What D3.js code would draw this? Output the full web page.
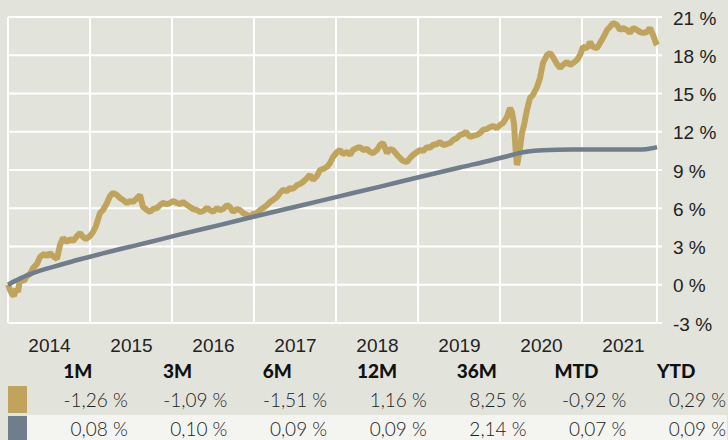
<!DOCTYPE html>
<html>
<head>
<meta charset="utf-8" />
<title>Fund vs benchmark</title>
<script src="https://d3js.org/d3.v7.min.js"></script>
<style>
  body { margin: 0; background: #e2e4dc; }
  svg { display: block; font-family: Lato, "Open Sans", sans-serif; }
  .axis text { fill: #222; font-size: 19px; font-weight: 300; }
</style>
</head>
<body>
<svg id="chart" width="728" height="440"></svg>
<script>
// tick labels / categories
var years = [2014, 2015, 2016, 2017, 2018, 2019, 2020, 2021];
var yTicks = [-3, 0, 3, 6, 9, 12, 15, 18, 21];
var periods = ["1M", "3M", "6M", "12M", "36M", "MTD", "YTD"];

// returns table
var fundReturns = [-1.26, -1.09, -1.51, 1.16, 8.25, -0.92, 0.29];
var benchReturns = [0.08, 0.10, 0.09, 0.09, 2.14, 0.07, 0.09];

// fund (gold) – [decimal year, cumulative %]
var fundSeries = [
  [2014.000, 0.00], [2014.024, -0.41], [2014.049, -0.73], [2014.073, -0.88], [2014.098, -0.33],
  [2014.122, -0.57], [2014.146, 0.45], [2014.195, 0.29], [2014.232, 0.69], [2014.268, 0.84],
  [2014.305, 1.31], [2014.354, 1.63], [2014.390, 2.18], [2014.439, 2.41], [2014.476, 2.25],
  [2014.512, 2.49], [2014.549, 2.25], [2014.598, 2.02], [2014.634, 3.12], [2014.671, 3.67],
  [2014.720, 3.35], [2014.756, 3.59], [2014.793, 3.43], [2014.841, 3.82], [2014.878, 4.06],
  [2014.915, 3.75], [2014.951, 3.59], [2015.000, 3.82], [2015.037, 4.14], [2015.073, 4.61],
  [2015.122, 5.63], [2015.159, 5.86], [2015.207, 6.41], [2015.244, 6.96], [2015.280, 7.20],
  [2015.329, 7.04], [2015.366, 6.80], [2015.402, 6.65], [2015.451, 6.41], [2015.488, 6.57],
  [2015.524, 6.49], [2015.573, 6.80], [2015.610, 7.04], [2015.646, 6.10], [2015.695, 5.86],
  [2015.732, 5.71], [2015.768, 5.94], [2015.817, 6.02], [2015.854, 6.25], [2015.890, 6.41],
  [2015.939, 6.33], [2015.976, 6.41], [2016.012, 6.57], [2016.061, 6.41], [2016.098, 6.33],
  [2016.134, 6.49], [2016.183, 6.25], [2016.220, 6.10], [2016.256, 5.94], [2016.305, 5.86],
  [2016.341, 5.71], [2016.378, 5.78], [2016.427, 6.02], [2016.463, 5.86], [2016.500, 5.71],
  [2016.549, 6.02], [2016.585, 5.86], [2016.622, 5.94], [2016.671, 6.25], [2016.707, 6.10],
  [2016.744, 5.71], [2016.793, 5.94], [2016.829, 5.86], [2016.866, 5.63], [2016.915, 5.47],
  [2016.951, 5.31], [2016.988, 5.55], [2017.037, 5.63], [2017.073, 5.86], [2017.110, 6.02],
  [2017.159, 6.25], [2017.195, 6.49], [2017.232, 6.65], [2017.280, 6.88], [2017.317, 7.20],
  [2017.354, 7.43], [2017.402, 7.35], [2017.439, 7.59], [2017.476, 7.51], [2017.524, 7.82],
  [2017.561, 7.90], [2017.598, 8.06], [2017.646, 8.37], [2017.683, 8.61], [2017.720, 8.22],
  [2017.768, 8.53], [2017.805, 9.00], [2017.841, 9.08], [2017.890, 9.24], [2017.927, 9.55],
  [2017.963, 10.02], [2018.012, 10.41], [2018.049, 10.57], [2018.085, 10.25], [2018.134, 10.41],
  [2018.171, 10.18], [2018.207, 10.57], [2018.256, 10.73], [2018.293, 10.80], [2018.329, 10.57],
  [2018.378, 10.65], [2018.415, 10.41], [2018.451, 10.33], [2018.500, 10.57], [2018.537, 10.96],
  [2018.573, 11.12], [2018.622, 10.33], [2018.659, 10.65], [2018.695, 10.57], [2018.744, 10.18],
  [2018.780, 9.94], [2018.817, 9.71], [2018.866, 9.63], [2018.902, 9.94], [2018.939, 10.18],
  [2018.988, 10.41], [2019.024, 10.57], [2019.061, 10.49], [2019.110, 10.80], [2019.146, 10.73],
  [2019.183, 10.96], [2019.232, 11.04], [2019.268, 11.20], [2019.305, 10.96], [2019.354, 11.04],
  [2019.390, 11.12], [2019.427, 11.35], [2019.476, 11.51], [2019.512, 11.75], [2019.549, 11.82],
  [2019.585, 11.98], [2019.634, 11.59], [2019.671, 11.67], [2019.720, 11.75], [2019.756, 11.90],
  [2019.793, 12.14], [2019.841, 12.22], [2019.878, 12.37], [2019.915, 12.45], [2019.963, 12.29],
  [2020.000, 12.53], [2020.037, 12.69], [2020.085, 13.16], [2020.122, 13.86], [2020.146, 13.55],
  [2020.171, 12.61], [2020.183, 11.35], [2020.195, 10.18], [2020.207, 9.39], [2020.220, 9.78],
  [2020.244, 10.73], [2020.268, 11.90], [2020.293, 12.53], [2020.329, 13.71], [2020.366, 14.65],
  [2020.402, 14.88], [2020.451, 15.51], [2020.488, 16.22], [2020.524, 17.39], [2020.573, 18.02],
  [2020.610, 18.18], [2020.646, 17.86], [2020.695, 17.31], [2020.732, 17.00], [2020.768, 17.24],
  [2020.817, 17.47], [2020.854, 17.24], [2020.890, 17.39], [2020.939, 17.63], [2020.976, 18.02],
  [2021.012, 18.65], [2021.061, 18.57], [2021.098, 19.04], [2021.134, 18.65], [2021.183, 18.57],
  [2021.220, 18.96], [2021.256, 19.35], [2021.305, 19.98], [2021.341, 20.22], [2021.378, 20.53],
  [2021.427, 20.37], [2021.463, 19.98], [2021.500, 20.14], [2021.549, 19.98], [2021.585, 19.75],
  [2021.622, 20.14], [2021.671, 19.98], [2021.707, 19.82], [2021.744, 19.75], [2021.793, 19.82],
  [2021.829, 20.14], [2021.866, 19.59], [2021.902, 18.96], [2021.915, 18.80]
];

// benchmark (grey) – [decimal year, cumulative %]
var benchSeries = [
  [2014.00, 0.00], [2014.15, 0.50], [2014.39, 1.10], [2014.63, 1.55], [2014.88, 2.00],
  [2015.12, 2.40], [2015.37, 2.80], [2015.73, 3.35], [2016.10, 3.95], [2016.59, 4.70],
  [2017.07, 5.45], [2017.56, 6.20], [2018.05, 6.95], [2018.54, 7.70], [2019.02, 8.45],
  [2019.51, 9.20], [2019.88, 9.75], [2020.10, 10.10], [2020.22, 10.30], [2020.34, 10.45],
  [2020.52, 10.55], [2020.88, 10.60], [2021.37, 10.60], [2021.73, 10.60], [2021.85, 10.70],
  [2021.915, 10.80]
];

var gold = "#c0a45c", slate = "#6f7d8d", gridColor = "#ffffff";

var svg = d3.select("#chart");

var x = d3.scaleLinear().domain([2014, 2022]).range([8, 664]),
    y = d3.scaleLinear().domain([-3, 21]).range([323, 17]);

var lastDate = fundSeries[fundSeries.length - 1][0];

// grid
var grid = svg.append("g").attr("class", "grid");
grid.selectAll(".hline")
    .data(yTicks)
    .enter().append("line")
    .attr("x1", x(2014)).attr("x2", 662)
    .attr("y1", function (d) { return y(d); })
    .attr("y2", function (d) { return y(d); })
    .attr("stroke", gridColor).attr("stroke-width", 2);
grid.selectAll(".vline")
    .data(years.concat([lastDate]))
    .enter().append("line")
    .attr("x1", function (d) { return x(d); })
    .attr("x2", function (d) { return x(d); })
    .attr("y1", y(21)).attr("y2", y(-3))
    .attr("stroke", gridColor).attr("stroke-width", 2);

// lines
var line = d3.line()
    .x(function (d) { return x(d[0]); })
    .y(function (d) { return y(d[1]); });

svg.append("path")
    .datum(fundSeries)
    .attr("fill", "none")
    .attr("stroke", gold)
    .attr("stroke-width", 6)
    .attr("stroke-linejoin", "bevel")
    .attr("d", line);

svg.append("path")
    .datum(benchSeries)
    .attr("fill", "none")
    .attr("stroke", slate)
    .attr("stroke-width", 4.5)
    .attr("d", line.curve(d3.curveMonotoneX));

// axes
var yAxis = d3.axisRight(y)
    .tickValues(yTicks)
    .tickSize(0)
    .tickPadding(0)
    .tickFormat(function (d) { return d + " %"; });

svg.append("g")
    .attr("class", "axis axis--y")
    .attr("transform", "translate(673,1)")
    .call(yAxis)
    .call(function (g) { g.select(".domain").remove(); });

var xAxis = d3.axisBottom(x)
    .tickValues(years.map(function (d) { return d + 0.5; }))
    .tickSize(0)
    .tickPadding(0)
    .tickFormat(function (d) { return Math.floor(d); });

svg.append("g")
    .attr("class", "axis axis--x")
    .attr("transform", "translate(0,338)")
    .call(xAxis)
    .call(function (g) { g.select(".domain").remove(); });

// returns table
var fmt = function (v) {
    return d3.format(".2f")(v).replace("\u2212", "-").replace(".", ",") + " %";
};

var col = d3.scaleBand().domain(periods).range([28, 726]);

svg.append("rect")
    .attr("x", 27).attr("y", 415)
    .attr("width", 700).attr("height", 25)
    .attr("fill", "#f4f4f1");

svg.append("rect").attr("x", 8).attr("y", 386).attr("width", 19).attr("height", 27).attr("fill", gold);
svg.append("rect").attr("x", 8).attr("y", 416).attr("width", 19).attr("height", 24).attr("fill", slate);

var table = svg.append("g").attr("class", "table");

table.selectAll(".head")
    .data(periods)
    .enter().append("text")
    .attr("x", function (d) { return col(d) + col.bandwidth() / 2; })
    .attr("y", 378)
    .attr("text-anchor", "middle")
    .attr("font-size", 19)
    .attr("font-weight", 900)
    .attr("fill", "#111")
    .text(function (d) { return d; });

table.selectAll(".fund")
    .data(fundReturns)
    .enter().append("text")
    .attr("x", function (d, i) { return col(periods[i]) + col.bandwidth(); })
    .attr("y", 407)
    .attr("text-anchor", "end")
    .attr("font-size", 19)
    .attr("font-weight", 300)
    .attr("fill", "#222")
    .text(fmt);

table.selectAll(".bench")
    .data(benchReturns)
    .enter().append("text")
    .attr("x", function (d, i) { return col(periods[i]) + col.bandwidth(); })
    .attr("y", 436)
    .attr("text-anchor", "end")
    .attr("font-size", 19)
    .attr("font-weight", 300)
    .attr("fill", "#222")
    .text(fmt);
</script>
</body>
</html>
